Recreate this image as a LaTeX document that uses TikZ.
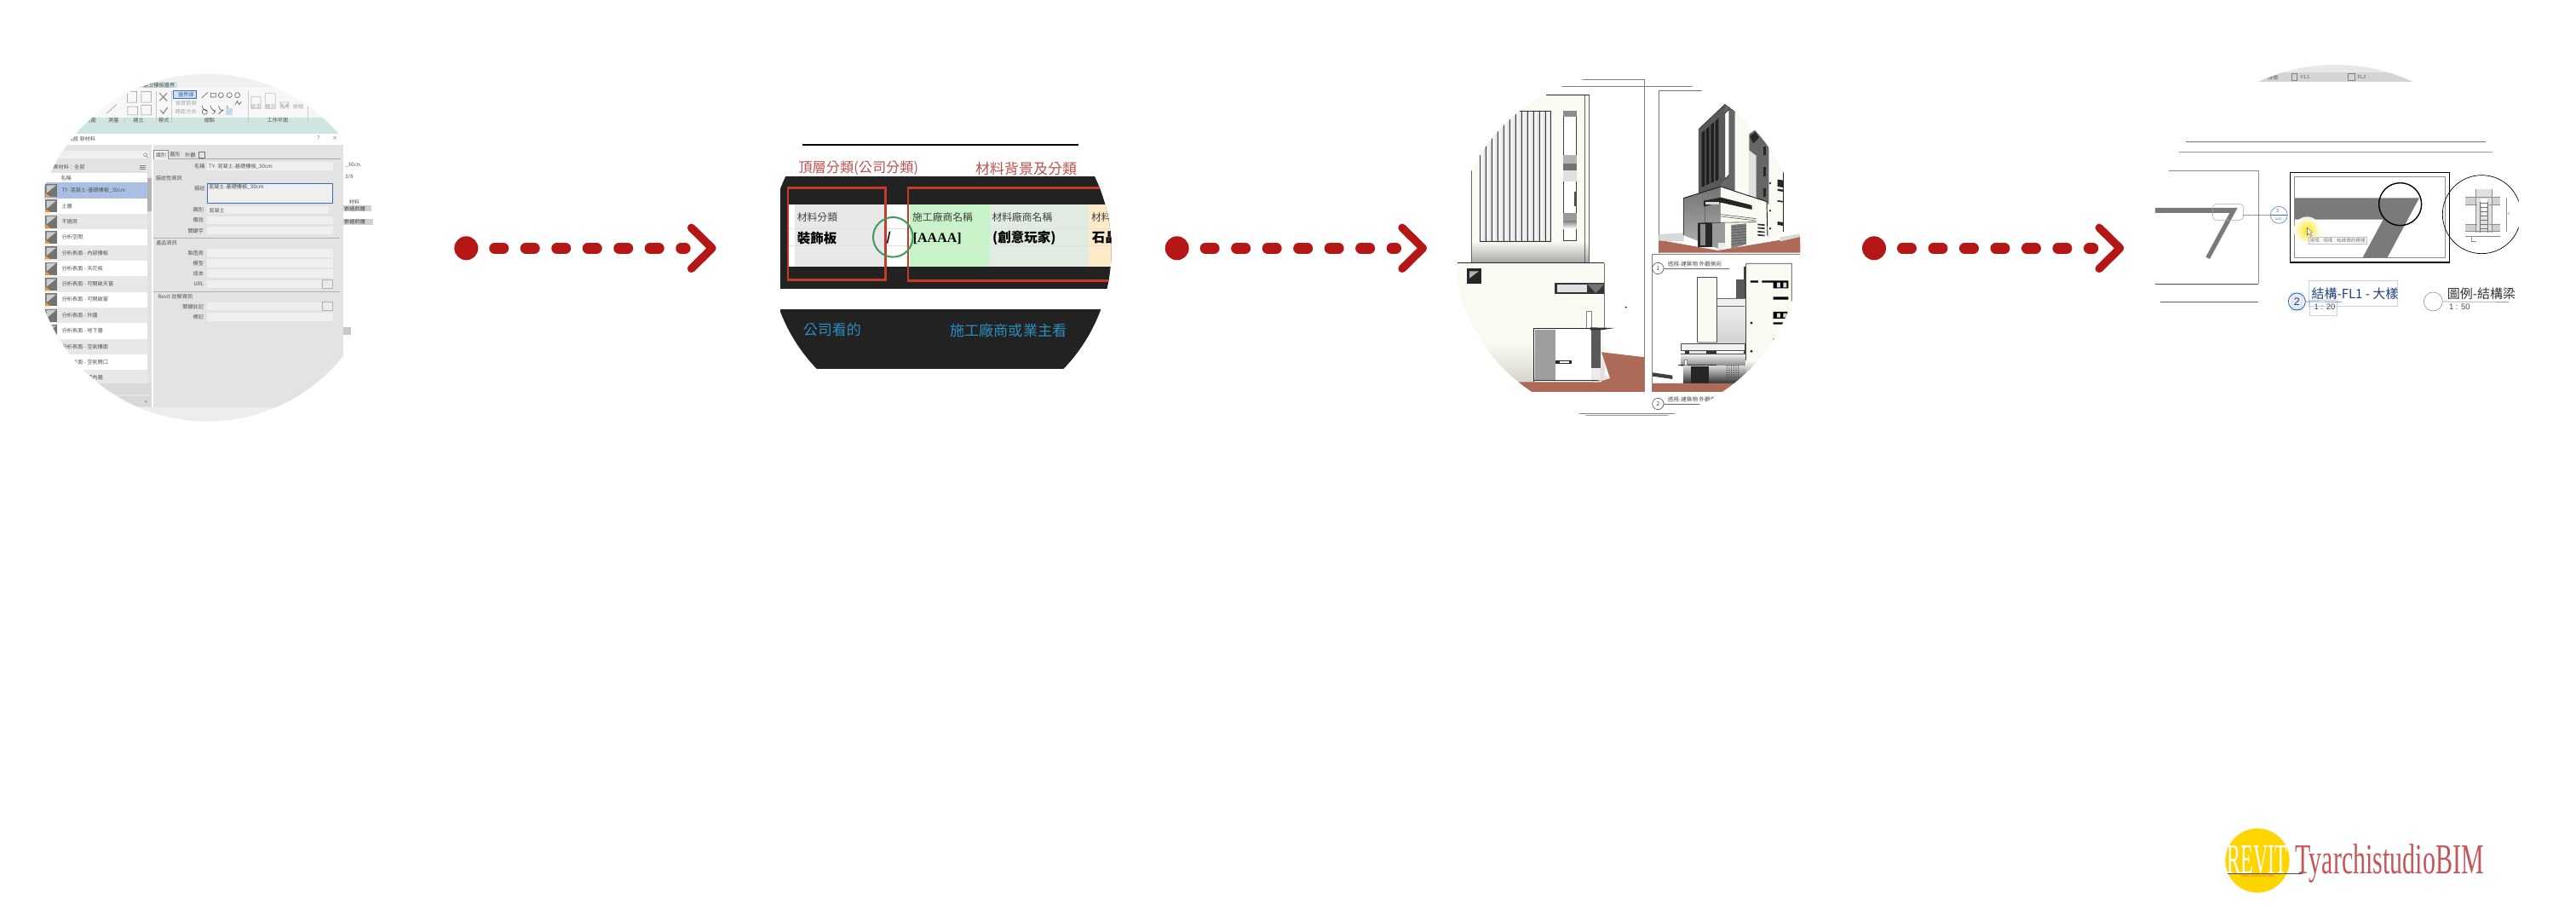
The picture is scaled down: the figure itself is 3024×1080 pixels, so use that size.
\documentclass[tikz,border=0pt]{standalone}
\usepackage{fontspec}
\setmainfont{Noto Sans CJK TC}
\newfontfamily\serifl{Liberation Serif}
\newfontfamily\sansl{Liberation Sans}
\usetikzlibrary{shadings}
\newcommand\fsz[1]{\fontsize{#1}{#1}\selectfont}
\definecolor{arrred}{HTML}{B51616}
\definecolor{tealband}{HTML}{CFE5E2}
\definecolor{dlg}{HTML}{E3E3E3}
\definecolor{fieldc}{HTML}{EFEFEF}
\definecolor{uitext}{HTML}{555555}
\definecolor{rowblue}{HTML}{A9C0E4}
\definecolor{darkband}{HTML}{222222}
\definecolor{rectred}{HTML}{C63A2A}
\definecolor{headred}{HTML}{C0504D}
\definecolor{capblue}{HTML}{2A8FC0}
\definecolor{cream}{HTML}{FAFAF2}
\definecolor{soil}{HTML}{AD6A58}
\definecolor{navy}{HTML}{1F3F7F}
\definecolor{markblue}{HTML}{3A6DB5}
\definecolor{logoyellow}{HTML}{FFD500}
\definecolor{logored}{HTML}{B8383C}
\definecolor{cellgreen}{HTML}{C8F2C8}
\definecolor{cellgray}{HTML}{E2EBE2}
\definecolor{cellorange}{HTML}{FDEBC8}
\definecolor{ringgreen}{HTML}{3C9A5C}
\tikzset{
  zoomed/.style 2 args={shift={(#1,#2)},x=0.3333pt,y=-0.3333pt},
  lbl/.style={inner sep=0pt,anchor=west,text=uitext,font=\fsz{6.2}},
  lblc/.style={inner sep=0pt,anchor=center,text=uitext,font=\fsz{6.2}},
  reddot/.style={circle,fill=arrred,draw=none,minimum size=28pt,inner sep=0pt},
  dashline/.style={draw=arrred,line width=12.7pt,line cap=round,dash pattern=on 10.3pt off 26.2pt},
  chevron/.style={draw=arrred,line width=9.4pt,line cap=round,line join=round},
  gline/.style={draw=gray,line width=0.9pt},
}
\newcommand\redarrow[2]{%
  \begin{scope}[shift={(#2,291.3)}]
    \node[reddot] (#1dot) at (0,0) {};
    \coordinate (#1a) at (33.3,0);
    \coordinate (#1b) at (257,0);
    \coordinate (#1u) at (264.3,-24);
    \coordinate (#1t) at (288.7,0);
    \coordinate (#1l) at (264.3,24);
    \draw[dashline] (#1a) -- (#1b);
    \draw[chevron] (#1u) -- (#1t) -- (#1l);
  \end{scope}}
\begin{document}
\begin{tikzpicture}[x=1pt,y=-1pt]
\useasboundingbox (0,0) rectangle (3024,1080);
\fill[white] (0,0) rectangle (3024,1080);

%% ------------- PANEL 1
\begin{scope}[zoomed={40}{70}]
  \clip (610,662) circle (612);
  \fill[black!6] (0,0) rectangle (1260,205);
  \fill[tealband] (350,78) rectangle (505,100);
  \fill[black!3] (130,100) rectangle (965,205);
  \fill[tealband!30] (965,100) rectangle (1260,205);
  \fill[tealband] (0,205) rectangle (1260,260);
  \fill[white] (0,260) rectangle (1260,300);
  \fill[white] (1090,300) rectangle (1260,1000);
  \fill[dlg] (35,300) rectangle (1090,1225);
  \fill[white] (0,300) rectangle (35,900);
  \fill[dlg] (0,300) rectangle (35,348);
  \fill[dlg] (0,900) rectangle (35,1225);
  \fill[black!7] (0,1225) rectangle (1260,1400);
  % ribbon
  \node[lblc] (r0) at (440,90) {建立樓板邊界};
  \draw[black!45,line width=.5pt] (328,112) rectangle (362,150) (378,112) rectangle (412,150)
     (330,165) rectangle (365,195) (378,160) rectangle (412,195) (255,190) -- (290,158);
  \draw[black!45,line width=1.2pt] (442,118) -- (468,145) (468,118) -- (442,145) (445,178) -- (455,190) -- (470,168);
  \fill[rowblue!50] (490,108) rectangle (570,137);
  \draw[markblue,line width=.5pt] (490,108) rectangle (570,137);
  \node[lblc,text=markblue] (r1) at (535,122) {邊界線};
  \node[lblc,text=black!35] (r2) at (535,153) {坡度箭頭};
  \node[lblc,text=black!35] (r3) at (535,184) {跨距方向};
  \draw[black!65,line width=.6pt] (590,135) -- (612,115) (622,118) rectangle (640,132)
     (658,125) circle (9) (688,125) circle (9) (716,125) circle (9)
     (592,162) arc (180:90:18) (622,162) arc (180:90:18) (650,162) arc (180:90:18) (680,162) arc (180:90:18)
     (708,158) -- (716,146) -- (722,158) -- (730,148) (601,184) circle (9) (628,176) -- (638,184) -- (628,192)
     (650,192) -- (666,176);
  \fill[rowblue!60] (676,172) rectangle (700,196);
  \draw[black!25,line width=.6pt] (765,130) rectangle (798,172) (815,118) rectangle (850,172) (865,150) -- (898,150) -- (880,172) -- cycle;
  \foreach \x/\t/\n in {200/視圖/a,280/測量/b,368/建立/c,457/模式/d,618/繪製/e,858/工作平面/f}
    \node[lblc] (g\n) at (\x,213) {\t};
  \foreach \x/\t/\n in {782/設定/a,833/展示/b,883/參考/c,930/檢視/d}
    \node[lblc,text=black!35] (h\n) at (\x,166) {\t};
  \draw[black!20,line width=.5pt] (318,205) -- (318,222) (430,110) -- (430,222) (485,110) -- (485,222) (755,110) -- (755,222) (965,110) -- (965,222);
  % title bar
  \node[lbl] (tb) at (108,279) {- 預設 新材料};
  \node[lblc] (tq) at (1002,278) {?};
  \node[lblc] (tx) at (1060,278) {×};
  % left list
  \fill[fieldc] (0,322) rectangle (405,348);
  \draw[black!50,line width=.5pt] (392,335) circle (6) (396,340) -- (402,346);
  \node[lbl] (lm) at (48,378) {專案材料：全部};
  \draw[black!50,line width=.5pt] (372,372) -- (392,372) (372,378) -- (392,378) (372,384) -- (392,384);
  \fill[white] (35,400) rectangle (398,433);
  \node[lblc] (lh) at (113,416) {名稱};
  \foreach \i/\c in {0/rowblue,1/white,2/black!9,3/white,4/black!9,5/white,6/black!9,7/white,8/black!9,9/white,10/black!9,11/white,12/black!9}{
    \fill[\c] (35,{433+55*\i}) rectangle (398,{488+55*\i});
    \fill[black!55] (40,{438+55*\i}) rectangle (82,{483+55*\i});
    \fill[black!20] (44,{442+55*\i}) -- (78,{442+55*\i}) -- (44,{470+55*\i}) -- cycle;
    \fill[orange!80] (40,{470+55*\i}) -- (40,{483+55*\i}) -- (58,{483+55*\i}) -- cycle;
  }
  \foreach \i/\t in {0/TY- 混凝土-基礎樓板\_30cm,1/土層,2/不適用,3/分析空間,4/分析表面 - 內部樓板,5/分析表面 - 天花板,6/分析表面 - 可開啟天窗,7/分析表面 - 可開啟窗,8/分析表面 - 外牆,9/分析表面 - 地下牆,10/分析表面 - 空氣樓面,11/分析表面 - 空氣開口,12/分析表面 - 室內牆}
    \node[lbl] (row\i) at (97,{460+55*\i}) {\t};
  \fill[black!12] (398,400) rectangle (413,1140);
  \fill[black!30] (398,418) rectangle (413,535);
  \fill[black!15] (0,1140) rectangle (415,1180);
  \fill[black!15] (0,1186) rectangle (415,1222);
  \fill[white] (413,300) rectangle (419,1225);
  \node[lblc] (ll) at (395,1205) {«};
  % right form
  \draw[black!45,line width=.5pt,fill=black!4] (422,350) -- (422,318) -- (472,318) -- (472,350);
  \draw[black!35,line width=.5pt] (472,349) -- (1080,349);
  \node[lblc] (t1) at (447,335) {識別};
  \node[lblc] (t2) at (497,335) {圖形};
  \node[lblc] (t3) at (550,335) {外觀};
  \draw[black!55,line width=.5pt] (581,325) rectangle (602,345);
  \node[lblc] (f0) at (583,375) {名稱};
  \fill[fieldc] (610,360) rectangle (1054,389);
  \node[lbl] (f0v) at (615,375) {TY- 混凝土-基礎樓板\_30cm};
  \node[lblc] (s1) at (475,416) {描述性資訊};
  \node[lblc] (f1) at (583,452) {描述};
  \draw[fill=fieldc,draw=markblue,line width=.9pt] (610,437) rectangle (1052,505);
  \node[lbl,text=black!70] (f1v) at (614,449) {混凝土-基礎樓板\_30cm};
  \foreach \y/\t/\n in {530/類別/a,566/備註/b,602/關鍵字/c,681/製造商/d,718/模型/e,754/成本/f}{
    \fill[fieldc] (610,{\y-15}) rectangle (1053,{\y+14});
    \node[lblc,anchor=east] (fl\n) at (598,\y) {\t};
  }
  \node[lbl] (f2v) at (615,530) {混凝土};
  \fill[black!10] (1037,516) rectangle (1052,544);
  \draw[black!30,line width=.5pt] (420,628) -- (1078,628) (420,817) -- (1078,817);
  \node[lblc] (s2) at (467,645) {產品資訊};
  \foreach \y/\t/\n in {791/URL/g,869/關鍵註記/h}{
    \fill[fieldc] (610,{\y-15}) rectangle (1012,{\y+14});
    \draw[fill=black!8,draw=black!30,line width=.4pt] (1014,{\y-15}) rectangle (1052,{\y+14});
    \node[lblc,anchor=east] (fl\n) at (598,\y) {\t};
  }
  \fill[fieldc] (610,891) rectangle (1053,920);
  \node[lblc,anchor=east] (fli) at (598,905) {標記};
  \node[lbl] (s3) at (436,833) {Revit 註解資訊};
  % right side behind
  \node[lbl] (b1) at (1095,372) {\_30cm};
  \node[lbl] (b2) at (1095,412) {3/8};
  \node[lblc] (b3) at (1128,502) {材料};
  \fill[black!18] (1090,513) rectangle (1187,535);
  \fill[black!18] (1090,560) rectangle (1195,583);
  \node[lbl,text=black!75] (b4) at (1092,524) {依過的層};
  \node[lbl,text=black!75] (b5) at (1092,571) {依過的層};
  \fill[black!22] (1090,942) rectangle (1115,970);
\end{scope}

%% ------------- PANEL 2
\begin{scope}[zoomed={900}{150}]
  \draw[black,line width=1.4pt] (125,60) -- (1097,60);
  \node[inner sep=0pt,anchor=west,text=headred,font=\fsz{16.2}] (p2a) at (112,143) {頂層分類(公司分類)};
  \node[inner sep=0pt,anchor=west,text=headred,font=\fsz{17}] (p2b) at (735,143) {材料背景及分類};
  \begin{scope}
    \clip (611,431) circle (603);
    \clip (48,172) rectangle (1300,900);
    \fill[darkband] (48,172) rectangle (1300,568);
    \fill[darkband] (0,640) rectangle (1300,848);
    \fill[white] (75,270) rectangle (505,488);
    \fill[black!9] (100,270) rectangle (415,488);
    \fill[cellgreen] (505,270) rectangle (785,488);
    \fill[cellgray] (785,270) rectangle (1133,488);
    \fill[cellorange] (1133,270) rectangle (1300,488);
    \draw[black!12,line width=.4pt] (75,355) -- (1300,355) (75,415) -- (1300,415);
    \draw[rectred,line width=2.7pt] (75,212) rectangle (418,535);
    \draw[rectred,line width=2.7pt] (498,212) rectangle (1350,538);
    \node[inner sep=0pt,anchor=west,text=black!75,font=\fsz{11.8}] (c1) at (107,314) {材料分類};
    \node[inner sep=0pt,anchor=west,text=black,font=\fsz{15.5}\bfseries] (c2) at (107,388) {裝飾板};
    \node[inner sep=0pt,anchor=center,text=black,font=\fsz{14}\bfseries] (c3) at (430,388) {/};
    \node[inner sep=0pt,anchor=west,text=black!75,font=\fsz{11.8}] (c4) at (513,314) {施工廠商名稱};
    \node[inner sep=0pt,anchor=west,text=black,font=\serifl\fsz{16}\bfseries] (c5) at (515,390) {[AAAA]};
    \node[inner sep=0pt,anchor=west,text=black!75,font=\fsz{11.8}] (c6) at (793,314) {材料廠商名稱};
    \node[inner sep=0pt,anchor=west,text=black,font=\fsz{15.5}\bfseries] (c7) at (795,388) {(創意玩家)};
    \node[inner sep=0pt,anchor=west,text=black!75,font=\fsz{11.8}] (c8) at (1143,314) {材料};
    \node[inner sep=0pt,anchor=west,text=black,font=\fsz{15.5}\bfseries] (c9) at (1145,388) {石晶};
    \draw[ringgreen,line width=2pt] (445,385) circle (70);
    \node[inner sep=0pt,anchor=west,text=capblue,font=\fsz{17}] (d1) at (128,710) {公司看的};
    \node[inner sep=0pt,anchor=west,text=capblue,font=\fsz{17.2}] (d2) at (645,713) {施工廠商或業主看};
  \end{scope}
\end{scope}

%% ------------- PANEL 3
\begin{scope}[zoomed={1700}{70}]
  \begin{scope}
    \clip (630,660) circle (610);
    \clip (32,0) rectangle (1248,1400);
    % frame lines
    \draw[gline] (300,70) -- (692,70);
    \draw[gline] (300,93) -- (1000,93);
    \draw[gline] (300,1245) -- (1000,1245);
    \draw[black!40,line width=1pt] (300,1253) -- (1000,1253);
    % left elevation
    \fill[cream] (82,125) rectangle (497,640);
    \shade[top color=cream,bottom color=black!35] (82,640) rectangle (497,715);
    \fill[cream] (32,716) rectangle (550,1000);
    \shade[top color=cream,bottom color=cream!85!black] (32,1000) rectangle (550,1135);
    \draw[black!85,line width=.9pt] (345,125) -- (497,125);
    \draw[black!60,line width=.6pt] (82,125) -- (82,715) (480,125) -- (480,715) (497,125) -- (497,715);
    \draw[black!85,line width=.9pt] (32,716) -- (550,716);
    \draw[black!55,line width=.6pt] (550,716) -- (550,950);
    \fill[black!14] (112,180) rectangle (362,640);
    \foreach \x in {112,133,...,350}{
      \fill[white!95!black] (\x+3,184) rectangle (\x+14,636);
      \draw[black!80,line width=.5pt] (\x,180) -- (\x,640);
    }
    \draw[black!80,line width=.7pt] (112,180) rectangle (362,640);
    \draw[black!75,line width=.5pt,fill=white] (405,180) rectangle (452,638);
    \fill[black!45] (405,180) rectangle (452,200);
    \fill[black!30] (405,335) rectangle (452,365);
    \fill[black!55] (405,365) rectangle (452,390);
    \fill[black!12] (405,390) rectangle (452,430);
    \fill[black!40] (405,540) rectangle (452,570);
    \shade[top color=black!45,bottom color=white] (405,570) rectangle (452,595);
    \fill[black!70] (443,465) rectangle (452,515);
    \fill[black!85] (65,735) rectangle (118,790);
    \fill[black!30] (75,745) -- (108,745) -- (75,770) -- cycle;
    \fill[black!80] (375,787) rectangle (550,825);
    \fill[black!12] (385,792) rectangle (490,820);
    \fill[black!55] (490,790) -- (550,790) -- (520,822) -- cycle;
    \draw[black!50,line width=.4pt,fill=white] (487,887) rectangle (505,945);
    % door
    \fill[white] (305,950) rectangle (505,1135);
    \fill[black!38] (306,950) rectangle (378,1128);
    \fill[black!65] (505,950) rectangle (538,1085);
    \fill[black!8] (505,1085) rectangle (538,1130);
    \draw[black!85,line width=.8pt] (300,1135) -- (300,945) -- (560,945);
    \fill[black!80] (500,943) -- (587,945) -- (540,952) -- (500,952) -- cycle;
    \fill[black!85] (378,1058) rectangle (435,1072);
    \fill[white] (392,1063) rectangle (425,1067);
    \draw[black!80,line width=.7pt] (300,1130) -- (540,1130);
    % soil
    \fill[soil] (245,1135) -- (530,1135) -- (570,1122) -- (540,1030) -- (692,1048) -- (692,1170) -- (290,1170) -- cycle;
    \fill[black!10] (505,1135) -- (570,1122) -- (545,1105) -- (540,1135) -- cycle;
    \draw[gline] (692,70) -- (692,1170);
    \fill[black] (626,872) circle (3);
    % perspective
    \draw[black!55,line width=.9pt] (742,680) -- (742,110) -- (1000,110);
    \fill[soil] (742,635) -- (950,672) -- (1248,622) -- (1248,680) -- (742,680) -- cycle;
    \fill[black!15] (742,615) -- (830,610) -- (830,640) -- (742,638) -- cycle;
    \fill[black!15] (1170,625) -- (1248,612) -- (1248,622) -- (1170,640) -- cycle;
    \fill[black!60] (1060,262) -- (1082,247) -- (1130,300) -- (1130,510) -- (1060,480) -- cycle;
    \fill[black!12] (1058,318) -- (1085,338) -- (1085,495) -- (1058,475) -- cycle;
    \fill[black!85] (1062,270) -- (1082,255) -- (1095,275) -- (1075,295) -- cycle;
    \fill[cream] (1130,300) -- (1155,340) -- (1155,625) -- (1130,632) -- cycle;
    \fill[cream] (1155,340) -- (1182,385) -- (1182,605) -- (1155,625) -- cycle;
    \draw[black!85,line width=.9pt] (1181,385) -- (1181,605);
    \foreach \y/\h in {422/28,455/10,495/8,570/15}{
      \fill[black!85] (1160,\y) -- (1180,{\y+3}) -- (1180,{\y+\h}) -- (1160,{\y+\h-3}) -- cycle;
    }
    \foreach \y in {305,378,452}{ \fill[black!85] (1110,\y) rectangle (1120,{\y+32}); }
    \foreach \p in {(1134,435),(1134,532),(1134,595)}{ \fill[black!85] \p circle (4); }
    % tower
    \fill[black!65] (882,245) -- (975,157) -- (975,425) -- (960,447) -- (882,472) -- cycle;
    \foreach \i in {0,1,2,3}{
      \fill[black!88] ({893+\i*16},{258-\i*14}) -- ({904+\i*16},{248-\i*14}) -- ({904+\i*16},{443-\i*7}) -- ({893+\i*16},{449-\i*7}) -- cycle;
    }
    \fill[black!60] (975,157) -- (1010,185) -- (1010,462) -- (960,447) -- (975,425) -- cycle;
    \draw[black!90,line width=.5pt,fill=white] (975,190) -- (990,175) -- (990,405) -- (975,420) -- cycle;
    \fill[cream] (1012,185) -- (1058,225) -- (1058,468) -- (1012,452) -- cycle;
    \draw[black!80,line width=.6pt] (882,245) -- (975,157) -- (1012,185);
    % base
    \shade[top color=black!55,bottom color=black!30] (828,488) -- (960,447) -- (960,670) -- (828,618) -- cycle;
    \fill[cream] (960,447) -- (1122,500) -- (1125,622) -- (1050,650) -- (960,670) -- cycle;
    \draw[black!90,line width=.9pt] (828,488) -- (960,447) -- (1122,500) -- (1125,622);
    \draw[black!75,line width=.5pt] (828,488) -- (828,618);
    \draw[black!60,line width=.5pt] (905,490) -- (905,650);
    \fill[black!85] (900,497) -- (960,485) -- (1070,513) -- (1070,528) -- (960,503) -- (900,517) -- cycle;
    \fill[black!15] (905,500) rectangle (955,510);
    \draw[black!60,line width=.7pt] (960,545) -- (1085,560) (960,552) -- (1085,567);
    \fill[black!85] (880,575) rectangle (960,660);
    \fill[black!45] (888,580) rectangle (905,655);
    \fill[black!40] (930,575) rectangle (975,660);
    \fill[black!8] (952,645) rectangle (975,665);
    \draw[black!80,line width=.6pt] (880,575) -- (1085,572);
    \fill[black!50] (997,582) -- (1050,577) -- (1050,650) -- (997,665) -- cycle;
    \foreach \y in {590,600,...,650} \draw[black!75,line width=.4pt] (997,\y) -- (1050,{\y-5});
    \foreach \y in {578,590,603,615}{ \fill[black!80] (1090,\y) -- (1115,{\y+2}) -- (1115,{\y+7}) -- (1090,{\y+5}) -- cycle; }
    % lower right view
    \draw[black!50,line width=.9pt] (718,1170) -- (718,685) -- (1248,685);
    \node[lbl,text=black!70,font=\fsz{6.6}] (v1) at (773,720) {透視-建築物 外觀側向};
    \draw[black!60,line width=.6pt] (760,735) -- (990,735);
    \draw[black!70,line width=.6pt,fill=white] (739,735) circle (20);
    \node[lblc,text=black!80,font=\fsz{6.6}] (n1) at (739,735) {1};
    \fill[cream] (1050,718) rectangle (1210,1060);
    \shade[top color=cream,bottom color=black!75] (1050,1060) rectangle (1210,1170);
    \draw[black!75,line width=.8pt] (1048,730) -- (1050,718) -- (1210,718) -- (1210,1000);
    \fill[black!75] (1042,730) rectangle (1050,1060);
    \fill[black] (1065,778) rectangle (1092,785) (1105,778) rectangle (1145,785) (1145,778) rectangle (1198,805)
       (1145,835) rectangle (1198,845) (1145,888) rectangle (1198,912) (1145,925) rectangle (1190,932) (1145,982) rectangle (1160,988);
    \fill[black!15] (1158,785) rectangle (1170,802) (1180,785) rectangle (1192,802) (1158,893) rectangle (1170,908) (1180,893) rectangle (1192,908);
    \foreach \p in {(1068,927),(1068,1027),(1068,1090)}{ \fill[black!85] \p circle (5); }
    \fill[black!65] (1015,775) rectangle (1045,842);
    \shade[top color=black!5,bottom color=black!18] (947,842) rectangle (1045,1000);
    \draw[black!60,line width=.4pt] (947,842) -- (1045,842) (947,868) -- (1045,868);
    \fill[cream] (878,767) rectangle (945,995);
    \draw[black!70,line width=.5pt] (878,995) -- (878,767) -- (945,767) -- (945,995);
    \draw[black!70,line width=.5pt,fill=black!5] (820,1000) rectangle (1045,1025);
    \fill[black!30] (880,993) rectangle (945,1000);
    \fill[black!80] (835,1025) rectangle (945,1037);
    \fill[black!10] (850,1027) rectangle (910,1034);
    \shade[top color=black!5,bottom color=black!50] (820,1037) rectangle (1045,1080);
    \draw[black!70,line width=.5pt] (820,1037) -- (1045,1037);
    \shade[top color=black!15,bottom color=black!80] (828,1078) rectangle (1050,1140);
    \draw[black!85,line width=.7pt] (810,1076) -- (945,1076);
    \draw[black!45,line width=.4pt,fill=white] (833,1056) rectangle (842,1076);
    \fill[black!85] (855,1080) rectangle (918,1140);
    \foreach \x in {982,990,...,1022}\foreach \y in {1078,1086,...,1118}\fill[black!80] (\x,\y) circle (2);
    \fill[soil] (718,1140) -- (1050,1140) -- (1000,1170) -- (718,1170) -- cycle;
    \fill[black!75] (720,1102) -- (790,1112) -- (790,1125) -- (720,1115) -- cycle;
    \draw[black!50,line width=.9pt] (718,1170) -- (718,1100);
    \node[lbl,text=black!70,font=\fsz{6.6}] (v2) at (773,1198) {透視-建築物 外觀側向};
    \draw[black!60,line width=.6pt] (760,1212) -- (990,1212);
    \draw[black!70,line width=.6pt,fill=white] (739,1212) circle (20);
    \node[lblc,text=black!80,font=\fsz{6.6}] (n2) at (739,1212) {2};
  \end{scope}
\end{scope}

%% ------------- PANEL 4
\begin{scope}[zoomed={2530}{70}]
  \begin{scope}
    \clip (0,0) rectangle (1000,77);
    \clip (635,665) circle (647);
    \fill[black!9] (0,0) rectangle (1000,45);
    \fill[black!17] (0,45) rectangle (1000,77);
    \node[lblc,text=black!55] (q0) at (415,62) {樓層};
    \draw[black!50,line width=.4pt] (480,50) rectangle (500,74) (680,50) rectangle (702,74);
    \node[lblc,text=black!60,font=\sansl\fsz{5.8}] (q1) at (528,62) {FL1};
    \node[lblc,text=black!60,font=\sansl\fsz{5.8}] (q2) at (728,62) {FL2};
  \end{scope}
  \draw[black!55,line width=.6pt] (108,288) -- (1163,288);
  \draw[black!38,line width=1.1pt] (83,326) -- (1188,326);
  \draw[black!45,line width=.7pt] (48,392) -- (364,392) -- (364,790);
  \draw[black!70,line width=.7pt] (0,790) -- (364,790);
  \draw[black!60,line width=.6pt] (17,853) -- (362,853);
  \fill[black!52] (0,522) -- (290,522) -- (192,702) -- (178,695) -- (262,540) -- (0,540) -- cycle;
  \draw[black!35,line width=.5pt,rounded corners=4pt] (203,508) rectangle (310,565);
  \node[circle,draw=markblue,line width=.5pt,minimum size=20pt,inner sep=0pt] (tag) at (436,547) {};
  \coordinate (tagbox) at (310,548);
  \draw[black!60,line width=.5pt] (tagbox) -- (tag.west);
  \draw[markblue,line width=.4pt] (407,547) -- (465,547);
  \node[lblc,text=markblue,font=\sansl\fsz{5.6}] (tag1) at (432,534) {2};
  \node[lblc,text=markblue,font=\sansl\fsz{3.6}] (tag2) at (435,563) {A101};
  % detail frame
  \draw[black,line width=1.6pt] (475,398) rectangle (1036,714);
  \draw[black!45,line width=1pt] (490,413) rectangle (1021,698);
  \fill[black!52] (490,487) -- (930,487) -- (817,698) -- (730,698) -- (803,563) -- (490,563) -- cycle;
  \shade[inner color=yellow!75!orange,outer color=white,opacity=.9] (535,600) circle (47);
  \fill[white,draw=black!70,line width=.3pt] (535,592) -- (535,618) -- (541,612) -- (547,622) -- (551,620) -- (546,610) -- (553,608) -- cycle;
  \node[lbl,fill=white,draw=black!25,line width=.3pt,text=black!55,inner sep=1.2pt,font=\fsz{5.6}] (tip) at (541,636) {視埠 : 視埠 : 有線條的標題};
  \draw[black,line width=1.4pt] (863,509) circle (75);
  % inset circle
  \begin{scope}
    \clip (900,380) rectangle (1280,720);
    \draw[black,line width=.7pt] (1150,545) circle (138);
    \fill[black!18] (1092,485) rectangle (1215,510);
    \fill[black!18] (1092,580) rectangle (1215,605);
    \fill[black!12] (1128,455) rectangle (1185,610);
    \fill[white] (1145,490) -- (1170,490) -- (1160,560) -- cycle;
    \draw[black!45,line width=.4pt] (1092,485) -- (1215,485) (1092,510) -- (1135,510) (1175,510) -- (1215,510) (1092,580) -- (1135,580) (1175,580) -- (1215,580) (1092,605) -- (1215,605)
      (1128,455) -- (1128,610) (1185,455) -- (1185,610) (1092,622) -- (1215,622) (1238,485) -- (1238,605) (1115,622) -- (1115,640) -- (1130,640);
    \foreach \y in {505,520,...,600} \draw[black!55,line width=.3pt] (1142,\y) -- (1172,\y);
    \draw[black!55,line width=.4pt] (1145,500) -- (1145,610) (1170,500) -- (1170,610);
    \node[lblc,text=black!50,font=\sansl\fsz{4}] (dim) at (1245,542) {8};
  \end{scope}
  % view titles
  \fill[markblue!15] (478,818) rectangle (522,886);
  \draw[markblue!30,line width=.5pt] (542,778) rectangle (853,868);
  \draw[markblue!30,line width=.5pt] (544,848) rectangle (640,900);
  \node[circle,draw=markblue,line width=.9pt,minimum size=20pt,inner sep=0pt] (vc) at (499,852) {};
  \node[lblc,text=navy,font=\sansl\fsz{12.5}] (vn) at (499,852) {2};
  \coordinate (ve) at (658,853);
  \draw[navy!70,line width=.7pt] (vc.east) -- (ve);
  \node[inner sep=0pt,anchor=west,text=navy,font=\fsz{15}] (vt) at (550,825) {結構-FL1 - 大樣};
  \node[lblc,text=black!70,font=\sansl\fsz{9.5}] (vs) at (597,872) {1 : 20};
  \node[circle,draw=black!50,line width=.5pt,minimum size=22pt,inner sep=0pt] (wc) at (979,852) {};
  \coordinate (we) at (1245,853);
  \draw[black!60,line width=.5pt] (wc.east) -- (we);
  \node[inner sep=0pt,anchor=west,text=black!80,font=\fsz{15}] (wt) at (1028,825) {圖例-結構梁};
  \node[lblc,text=black!70,font=\sansl\fsz{9.5}] (ws) at (1072,872) {1 : 50};
\end{scope}

%% ------------- ARROWS
\redarrow{aa}{547.3}
\redarrow{ab}{1381.7}
\redarrow{ac}{2200}

%% ------------- LOGO
\begin{scope}[zoomed={2600}{960}]
  \node[circle,fill=logoyellow,minimum size=75.3pt,inner sep=0pt] (lgc) at (150,150) {};
  \node[inner sep=0pt,anchor=base,text=white,font=\serifl\fsz{50}] (lgr) at (150,195) {\scalebox{.48}[1]{REVIT}};
  \coordinate (lga) at (45,196);
  \coordinate (lgb) at (310,196);
  \draw[black!70,line width=.7pt] (lga) -- (lgb);
  \node[inner sep=0pt,text=orange!80!red,font=\sansl\fsz{4}] (lgs) at (148,204) {TYARCHISTUDIO BIM};
  \node[inner sep=0pt,anchor=base west,text=logored!85,font=\serifl\fsz{50}] (lgt) at (283,195) {\scalebox{.6}[1]{TyarchistudioBIM}};
\end{scope}
\end{tikzpicture}
\end{document}
